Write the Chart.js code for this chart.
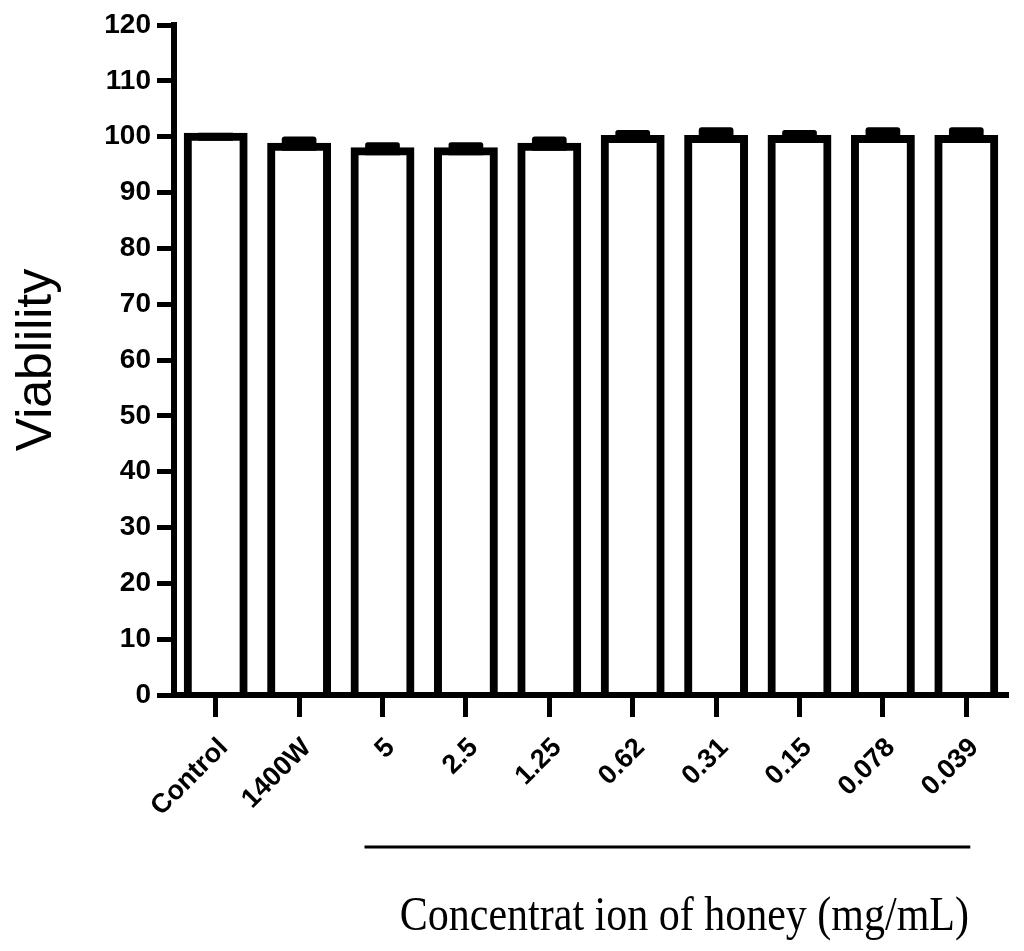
<!DOCTYPE html>
<html lang="en">
  <head>
    <meta charset="UTF-8" />
    <title>Viability vs honey concentration</title>
    <script src="https://cdn.jsdelivr.net/npm/chart.js"></script>
    <style>
      body {
        margin: 0;
        background: #fff;
      }
      #wrap {
        width: 1024px;
        height: 951px;
      }
    </style>
  </head>
  <body>
    <div id="wrap">
      <canvas id="viabilityChart" width="1024" height="951"></canvas>
    </div>

    <script>
      // values
      const categories = ["Control", "1400W", "5", "2.5", "1.25", "0.62", "0.31", "0.15", "0.078", "0.039"];
      const viability = [100, 98.2, 97.4, 97.4, 98.2, 99.6, 99.6, 99.6, 99.6, 99.6];
      const sem = [0, 1.1, 0.9, 0.9, 1.1, 0.9, 1.35, 0.9, 1.35, 1.35];
      const yTickValues = [0, 10, 20, 30, 40, 50, 60, 70, 80, 90, 100, 110, 120];
      const yTitle = "Viablility";
      const xTitle = "Concentrat ion of honey (mg/mL)";

      // error caps as floating bars from the mean up to mean + SEM
      const capRanges = viability.map((v, i) => [v, v + sem[i]]);

      const tickFont = { family: "'Liberation Sans', Arial, sans-serif", weight: "bold" };

      // line under the honey groups and the x title
      const bracketPlugin = {
        id: "honeyBracket",
        afterDraw(chart) {
          const { ctx } = chart;
          const x = chart.scales.x;
          const left = x.getPixelForValue(2) - 18;
          const right = x.getPixelForValue(9) + 4;
          ctx.save();
          ctx.strokeStyle = "#000";
          ctx.lineWidth = 3;
          ctx.beginPath();
          ctx.moveTo(left, 847);
          ctx.lineTo(right, 847);
          ctx.stroke();
          ctx.fillStyle = "#000";
          ctx.font = "42px 'Liberation Serif', 'Times New Roman', serif";
          ctx.textAlign = "center";
          ctx.textBaseline = "alphabetic";
          ctx.translate((left + right) / 2 + 17, 930);
          ctx.scale(1, 1.18);
          ctx.fillText(xTitle, 0, 0);
          ctx.restore();
        },
      };

      const ctx = document.getElementById("viabilityChart").getContext("2d");

      new Chart(ctx, {
        type: "bar",
        data: {
          labels: categories,
          datasets: [
            {
              label: "Viability",
              data: viability,
              backgroundColor: "#fff",
              borderColor: "#000",
              borderWidth: 8,
              inflateAmount: 4,
              barPercentage: 0.67,
              categoryPercentage: 1,
              order: 1,
            },
            {
              label: "SEM",
              data: capRanges,
              backgroundColor: "#000",
              borderWidth: 0,
              inflateAmount: 4,
              borderRadius: 3,
              barPercentage: 0.32,
              categoryPercentage: 1,
              grouped: false,
              order: 0,
            },
          ],
        },
        options: {
          responsive: false,
          animation: false,
          layout: {
            padding: { top: 25, right: 16, bottom: 0, left: 0 },
          },
          plugins: {
            legend: { display: false },
            tooltip: { enabled: false },
          },
          scales: {
            x: {
              afterFit(scale) {
                scale.height = 256;
              },
              grid: {
                offset: false,
                drawOnChartArea: false,
                tickLength: 22,
                tickWidth: 5,
                tickColor: "#000",
              },
              border: { color: "#000", width: 6, z: 1 },
              ticks: {
                color: "#000",
                font: { ...tickFont, size: 27 },
                minRotation: 45,
                maxRotation: 45,
                padding: 15,
                labelOffset: 8,
              },
            },
            y: {
              min: 0,
              max: 120,
              afterFit(scale) {
                scale.width = 174;
              },
              afterBuildTicks(scale) {
                scale.ticks = yTickValues.map((v) => ({ value: v }));
              },
              grid: {
                drawOnChartArea: false,
                tickLength: 17,
                tickWidth: 5,
                tickColor: "#000",
              },
              border: { color: "#000", width: 6 },
              ticks: {
                color: "#000",
                font: { ...tickFont, size: 28 },
                padding: 6,
              },
              title: {
                display: true,
                text: yTitle,
                color: "#000",
                font: { family: "'Liberation Sans', Arial, sans-serif", size: 50 },
                padding: { top: 7, bottom: 0 },
              },
            },
          },
        },
        plugins: [bracketPlugin],
      });
    </script>
  </body>
</html>
